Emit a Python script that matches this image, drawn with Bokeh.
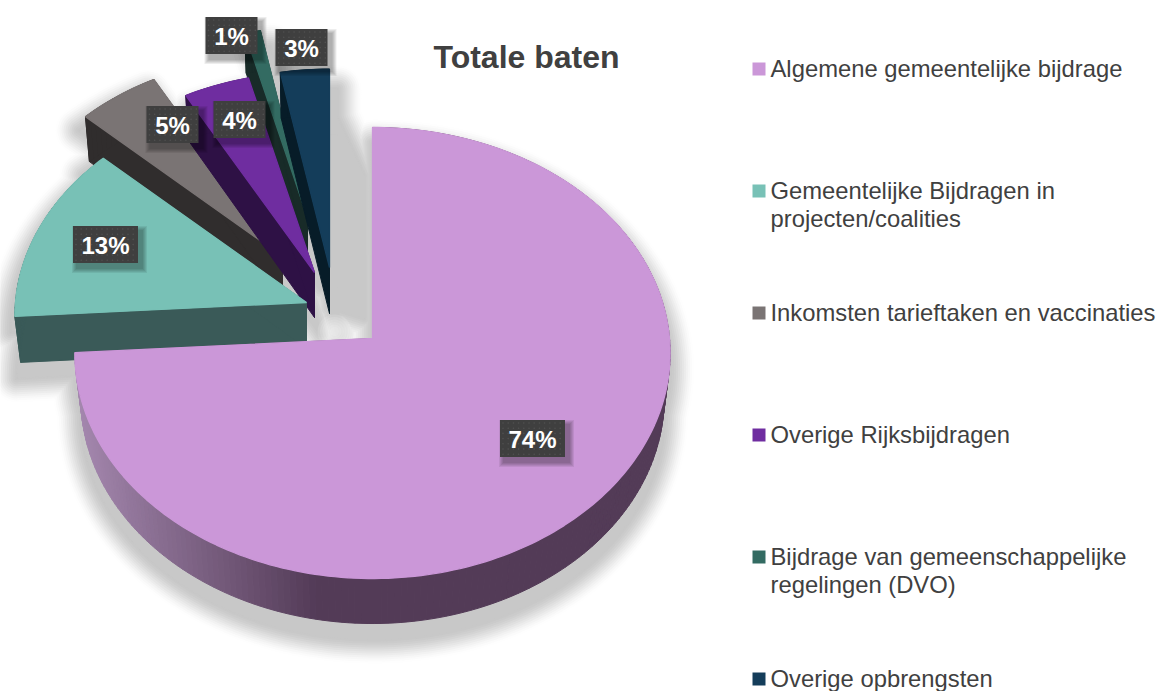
import numpy as np
from bokeh.plotting import figure
from bokeh.embed import file_html
from bokeh.resources import INLINE
from bokeh.core.properties import value

TITLE = "Totale baten"
categories = ["Algemene gemeentelijke bijdrage",
              "Gemeentelijke Bijdragen in\nprojecten/coalities",
              "Inkomsten tarieftaken en vaccinaties",
              "Overige Rijksbijdragen",
              "Bijdrage van gemeenschappelijke\nregelingen (DVO)",
              "Overige opbrengsten"]
shares = [74, 13, 5, 4, 1, 3]

top_colors = ["#cb97d8", "#78c1b6", "#7a7474", "#6f2da0", "#336b62", "#143d5a"]
wall_colors = ["#533b57", "#3a5a58", "#302d2d", "#2e1145", "#182b28", "#071c28"]

# layout of the exploded 3-D pie, in pixels
CENTRE = (372, 338)
R_X, R_Y, PERSP = 297.0, 224.6, 0.0643
explode = [(0, 0), (-66, -36), (-90, -82), (-58, -66), (-65, -121), (-43, -71)]
radius_scale = [1.0, 0.98, 0.95, 0.95, 0.9, 0.94]
depth = [45, 46, 45, 45, 40, 46]
draw_order = [4, 5, 2, 3, 1, 0]
label_offset = [(160, 100), (-201, -58), (-110, -132), (-75, -153), (-76, -182), (-28, -220)]
shadow_shift = [(0, 16), (-4, 16), (-6, 14), (6, 16), (10, 16), (8, 20)]

p = figure(width=1159, height=691, x_range=(0, 1159), y_range=(691, 0),
           toolbar_location=None, output_backend="svg", min_border=0,
           x_axis_type=None, y_axis_type=None, margin=(0, 0, 0, 0))
p.grid.visible = False
p.outline_line_color = None
p.background_fill_color = "#ffffff"

edges = np.cumsum([0] + shares) / sum(shares) * 2 * np.pi


def arc(i, n):
    a = np.linspace(edges[i], edges[i + 1], n)
    u, v = np.sin(a), np.cos(a)
    w = 1 + PERSP * v
    ax = CENTRE[0] + explode[i][0]
    ay = CENTRE[1] + explode[i][1]
    s = radius_scale[i]
    return ax, ay, ax + R_X * u / w * s, ay - R_Y * v / w * s


def lower(ax, xs, ys, d):
    return ax + (np.asarray(xs) - ax) * 0.98, np.asarray(ys) + d


slices = []
for i in range(len(shares)):
    n = max(6, int(shares[i] * 3))
    ax, ay, ax_x, ax_y = arc(i, n)
    xt = np.concatenate([[ax], ax_x])
    yt = np.concatenate([[ay], ax_y])
    xb, yb = lower(ax, xt, yt, depth[i])
    slices.append((xt, yt, xb, yb))

# shadow that fills the gap between the last slice and the big slice
n_xt, n_yt = slices[5][0], slices[5][1]
m_xt, m_yt = slices[0][0], slices[0][1]
gap_x = [n_xt[-1] + 6, m_xt[1] - 8, m_xt[0] - 8, n_xt[0]]
gap_y = [n_yt[-1] + 44, m_yt[1] + 48, m_yt[0] - 20, n_yt[0] + 40]

# soft shadows: rings from the lightest to the darkest
for d in range(26, -1, -2):
    t = d / 26
    g = int(200 + 55 * (3 * t ** 2 - 2 * t ** 3))
    col = "#%02x%02x%02x" % (g, g, g)
    xs, ys = [gap_x], [gap_y]
    for (xt, yt, xb, yb), (sx, sy) in zip(slices, shadow_shift):
        xs.append(list(xt + sx))
        ys.append(list(yt + sy))
        xs.append(list(xb + sx))
        ys.append(list(yb + sy))
    p.patches(xs, ys, fill_color=col, line_color=col, line_width=max(2 * d, 0.1), line_join="round")

# small light spot in the shadow near the tips of the slices
for size in range(34, 4, -5):
    p.scatter([CENTRE[0] - 38], [CENTRE[1] - 7], marker="circle", size=size,
              fill_color="#ffffff", fill_alpha=0.13, line_color=None)

# slices, back to front
for i in draw_order:
    xt, yt, xb, yb = slices[i]
    m = len(xt)
    xs, ys, cols = [], [], []
    for j in range(m):
        k = (j + 1) % m
        xs.append([xt[j], xt[k], xb[k], xb[j]])
        ys.append([yt[j], yt[k], yb[k], yb[j]])
        if i == 0:
            mx = (xt[j] + xt[k]) / 2
            f = min(max((mx - 77) / 240, 0), 1)
            c0 = np.array([0xa4, 0x87, 0xae])
            c1 = np.array([0x53, 0x3b, 0x57])
            c = c0 + (c1 - c0) * f
            cols.append("#%02x%02x%02x" % tuple(int(x) for x in c))
        else:
            cols.append(wall_colors[i])
    p.patches(xs, ys, fill_color=cols, line_color=cols, line_width=1)
    p.patch(xt, yt, fill_color=top_colors[i], line_color=top_colors[i], line_width=1.3)

# data labels
BW = [65, 65, 52, 52, 52, 52]
BH = 37
for i, sh in enumerate(shares):
    cx = CENTRE[0] + explode[i][0] + label_offset[i][0]
    cy = CENTRE[1] + explode[i][1] + label_offset[i][1]
    w = BW[i]
    for d in range(5, 0, -1):
        p.rect([cx + 4], [cy + 5], width=w + d * 2, height=BH + d * 2,
               fill_color="#000000", fill_alpha=0.07, line_color=None)
    p.rect([cx], [cy], width=w, height=BH, fill_color="#3f3f3f", line_color=None)
    gx, gy = np.meshgrid(np.arange(cx - w / 2 + 3, cx + w / 2 - 1, 5.2),
                         np.arange(cy - BH / 2 + 3, cy + BH / 2 - 1, 5.2))
    p.scatter(gx.ravel(), gy.ravel(), size=1.6, marker="circle", fill_color="#515151", line_color=None)
    p.text([cx], [cy + 1], text=[f"{sh}%"], text_color="#ffffff", text_font=value("Liberation Sans"),
           text_font_style="bold", text_font_size="24px", text_align="center", text_baseline="middle")

# title
p.text([526], [56], text=[TITLE], text_color="#404040", text_font=value("Liberation Sans"),
       text_font_style="bold", text_font_size="32px", text_align="center", text_baseline="middle")

# legend
LEG_X, LEG_Y, LEG_STEP, LINE = 758.5, 68.5, 122.0, 28
p.scatter([LEG_X] * len(categories), [LEG_Y + n * LEG_STEP for n in range(len(categories))],
          marker="square", size=13, fill_color=top_colors, line_color=None)
for n, cat in enumerate(categories):
    for l, line in enumerate(cat.split("\n")):
        p.text([770], [LEG_Y - 1 + n * LEG_STEP + l * LINE], text=[line], text_color="#404040",
               text_font=value("Liberation Sans"), text_font_size="23.8px",
               text_align="left", text_baseline="middle")

open("out.html", "w").write(file_html(p, INLINE))
